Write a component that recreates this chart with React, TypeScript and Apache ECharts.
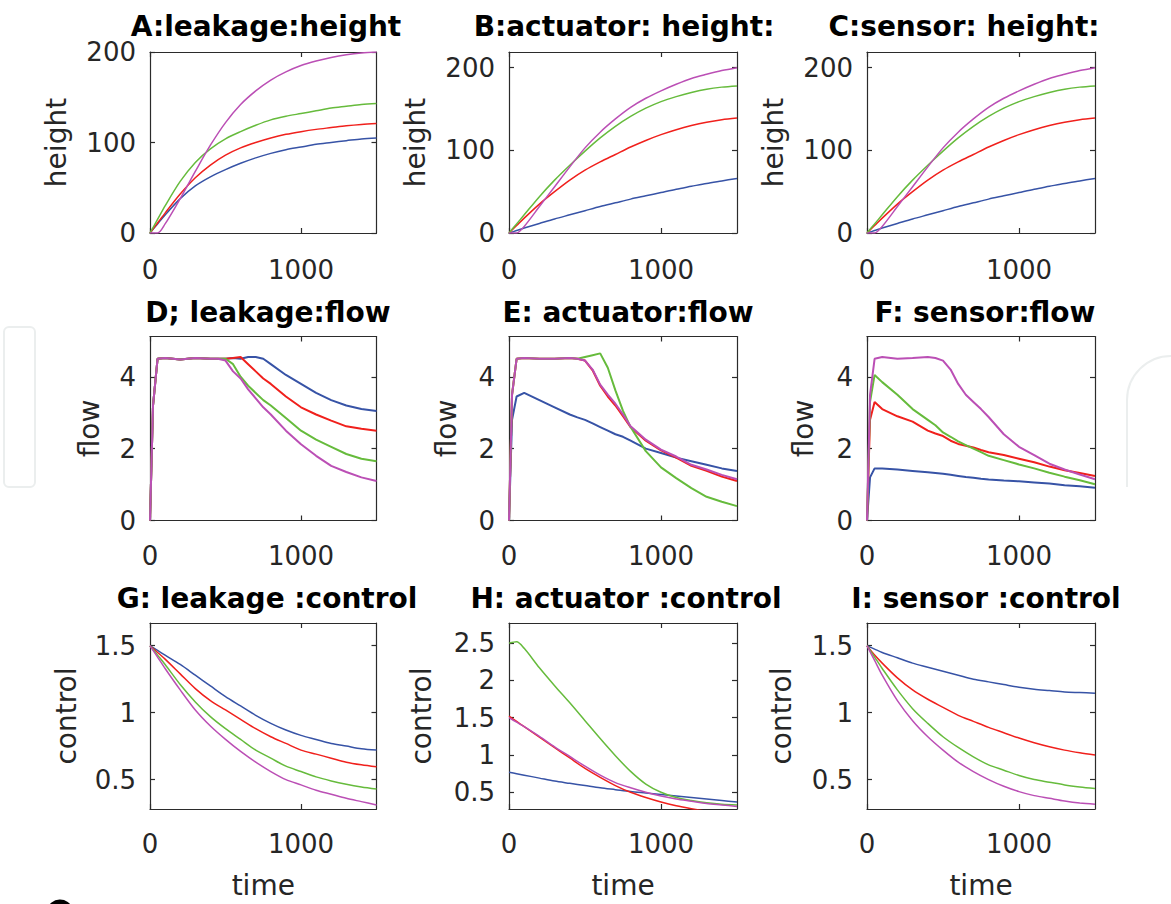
import React, { useEffect, useRef } from "react";
import * as echarts from "echarts";

// ---- time grids ----
const T_H = [0, 50, 100, 200, 300, 400, 500, 600, 700, 800, 900, 1000, 1100, 1200, 1300, 1400, 1500];
const T_F = [0, 20, 50, 100, 200, 300, 400, 450, 500, 550, 600, 650, 700, 750, 800, 900, 1000, 1100, 1200, 1300, 1400, 1500];

// ---- A: leakage height ----
const A_blue = [0, 10, 20, 38, 52, 62, 70, 77, 83, 88, 92, 95, 98, 100, 102, 104, 105];
const A_red = [0, 11, 22, 43, 61, 75, 86, 94, 100, 105, 109, 112, 114.5, 116.5, 118.5, 120, 121];
const A_green = [0, 15, 30, 57, 78, 93, 104, 112, 119, 125, 129, 132, 135, 138, 140, 142, 143];
const A_magenta = [0, 0, 10, 38, 68, 97, 122, 142, 157, 169, 178, 185, 190, 194, 197, 199, 200];

// ---- B / C: actuator & sensor height ----
const B_blue = [0, 3, 6, 11.5, 17, 22, 27, 32, 36.5, 41, 45, 49, 53, 56.5, 60, 63, 66];
const B_red = [0, 9, 18, 35, 50, 64, 76, 86, 95, 104, 112, 119, 125, 130, 134, 137, 139];
const B_green = [0, 11, 22, 44, 64, 82, 99, 115, 129, 141, 151, 159, 165, 170, 174, 176.5, 178];
const B_magenta = [0, 0, 8, 32, 56, 80, 103, 122, 138, 152, 163, 172, 180, 187, 192, 196.5, 200];
const C_blue = [0, 3, 6, 11.5, 17, 22, 27, 32, 36.5, 41, 45, 49, 53, 56.5, 60, 63, 66];
const C_red = [0, 9, 18, 35, 50, 64, 76, 86, 95, 104, 112, 119, 125, 130, 134, 137, 139];
const C_green = [0, 11, 22, 44, 64, 82, 99, 115, 129, 141, 151, 159, 165, 170, 174, 176.5, 178];
const C_magenta = [0, 0, 8, 32, 56, 80, 103, 122, 138, 152, 163, 172, 180, 187, 192, 196.5, 200];

// ---- D/E/F: flow ----
const D_blue = [0, 3.2, 4.5, 4.52, 4.48, 4.52, 4.5, 4.5, 4.5, 4.52, 4.5, 4.55, 4.55, 4.5, 4.35, 4.05, 3.8, 3.55, 3.35, 3.2, 3.1, 3.05];
const D_red = [0, 3.2, 4.5, 4.52, 4.48, 4.52, 4.5, 4.5, 4.5, 4.52, 4.55, 4.35, 4.15, 3.95, 3.8, 3.45, 3.15, 2.95, 2.78, 2.62, 2.55, 2.5];
const D_green = [0, 3.2, 4.5, 4.52, 4.48, 4.52, 4.5, 4.5, 4.5, 4.35, 4.0, 3.75, 3.55, 3.35, 3.2, 2.85, 2.5, 2.25, 2.05, 1.85, 1.72, 1.65];
const D_magenta = [0, 3.2, 4.5, 4.52, 4.48, 4.52, 4.5, 4.5, 4.45, 4.15, 3.95, 3.65, 3.4, 3.15, 2.95, 2.5, 2.12, 1.8, 1.52, 1.35, 1.2, 1.1];

const E_blue = [0, 2.8, 3.45, 3.55, 3.35, 3.15, 2.95, 2.87, 2.8, 2.7, 2.6, 2.5, 2.4, 2.33, 2.22, 2.0, 1.88, 1.75, 1.65, 1.55, 1.45, 1.38];
const E_red = [0, 3.5, 4.5, 4.52, 4.5, 4.5, 4.52, 4.5, 4.45, 4.18, 3.75, 3.45, 3.2, 2.9, 2.6, 2.22, 1.95, 1.75, 1.52, 1.38, 1.22, 1.1];
const E_green = [0, 3.5, 4.5, 4.52, 4.5, 4.5, 4.52, 4.5, 4.55, 4.6, 4.65, 4.25, 3.62, 3.05, 2.6, 1.93, 1.48, 1.18, 0.9, 0.66, 0.52, 0.4];
const E_magenta = [0, 3.5, 4.5, 4.52, 4.5, 4.5, 4.52, 4.5, 4.45, 4.2, 3.78, 3.5, 3.25, 2.95, 2.62, 2.25, 1.97, 1.78, 1.55, 1.42, 1.27, 1.15];

const F_blue = [0, 1.2, 1.45, 1.45, 1.42, 1.38, 1.34, 1.32, 1.3, 1.27, 1.24, 1.21, 1.19, 1.16, 1.14, 1.11, 1.09, 1.06, 1.03, 0.98, 0.95, 0.91];
const F_red = [0, 2.8, 3.3, 3.1, 2.9, 2.75, 2.5, 2.42, 2.35, 2.22, 2.13, 2.08, 2.03, 1.96, 1.9, 1.82, 1.72, 1.62, 1.5, 1.4, 1.32, 1.24];
const F_green = [0, 3.3, 4.05, 3.85, 3.5, 3.1, 2.8, 2.65, 2.45, 2.33, 2.2, 2.1, 2.0, 1.9, 1.8, 1.68, 1.56, 1.45, 1.33, 1.22, 1.12, 1.01];
const F_magenta = [0, 3.5, 4.5, 4.55, 4.5, 4.52, 4.55, 4.52, 4.45, 4.2, 3.8, 3.5, 3.3, 3.1, 2.88, 2.4, 2.05, 1.82, 1.58, 1.42, 1.28, 1.15];

// ---- G/H/I: control ----
const G_blue = [1.5, 1.465, 1.43, 1.36, 1.28, 1.2, 1.12, 1.05, 0.98, 0.92, 0.87, 0.83, 0.8, 0.77, 0.75, 0.73, 0.72];
const G_red = [1.5, 1.45, 1.4, 1.29, 1.18, 1.09, 1.02, 0.95, 0.88, 0.82, 0.77, 0.72, 0.69, 0.66, 0.63, 0.61, 0.595];
const G_green = [1.5, 1.43, 1.36, 1.21, 1.08, 0.97, 0.88, 0.8, 0.72, 0.66, 0.6, 0.56, 0.52, 0.49, 0.465, 0.445, 0.43];
const G_magenta = [1.5, 1.415, 1.33, 1.17, 1.02, 0.9, 0.8, 0.71, 0.63, 0.56, 0.5, 0.46, 0.42, 0.39, 0.36, 0.335, 0.31];

const H_blue = [0.77, 0.75, 0.73, 0.69, 0.65, 0.62, 0.59, 0.56, 0.535, 0.51, 0.49, 0.47, 0.45, 0.43, 0.41, 0.39, 0.37];
const H_red = [1.52, 1.45, 1.38, 1.24, 1.1, 0.96, 0.82, 0.7, 0.59, 0.5, 0.43, 0.37, 0.32, 0.28, 0.245, 0.215, 0.19];
const H_green = [2.5, 2.52, 2.43, 2.17, 1.93, 1.7, 1.46, 1.22, 0.99, 0.78, 0.61, 0.5, 0.43, 0.39, 0.36, 0.34, 0.33];
const H_magenta = [1.5, 1.44, 1.38, 1.25, 1.11, 0.98, 0.85, 0.73, 0.63, 0.56, 0.5, 0.45, 0.41, 0.38, 0.35, 0.33, 0.31];

const I_blue = [1.5, 1.475, 1.45, 1.41, 1.37, 1.34, 1.31, 1.28, 1.25, 1.23, 1.21, 1.19, 1.175, 1.165, 1.155, 1.15, 1.145];
const I_red = [1.5, 1.43, 1.37, 1.26, 1.17, 1.1, 1.04, 0.98, 0.935, 0.89, 0.85, 0.81, 0.775, 0.745, 0.72, 0.7, 0.683];
const I_green = [1.5, 1.415, 1.33, 1.17, 1.03, 0.92, 0.82, 0.74, 0.67, 0.61, 0.57, 0.53, 0.5, 0.48, 0.46, 0.445, 0.433];
const I_magenta = [1.5, 1.39, 1.28, 1.09, 0.94, 0.82, 0.72, 0.63, 0.56, 0.5, 0.45, 0.41, 0.38, 0.36, 0.34, 0.325, 0.316];

// ---- ticks ----
const X_TICKS = [0, 1000];
const H_TICKS = [0, 100, 200];
const F_TICKS = [0, 2, 4];
const C_TICKS = [0.5, 1, 1.5];
const CH_TICKS = [0.5, 1, 1.5, 2, 2.5];

const COLORS = ["#3753a6", "#f0201c", "#66bb3c", "#bb4fb5"];
const FONT = '"DejaVu Sans", sans-serif';
const AX = "#2b2b2b";

const COL_LEFT = [150, 509, 867];
const COL_W = [226.5, 228, 228];
const ROW_TOP = [52, 336.5, 623];
const ROW_H = [181, 184, 186];

type Panel = {
  title: string; tx: number; ty: number; row: number; col: number;
  time: number[]; lines: number[][]; ymin: number; ymax: number; yticks: number[];
  yname: string; gap: number; lw: number; xname: string;
};

const panels: Panel[] = [
  { title: "A:leakage:height", tx: 266, ty: 26, row: 0, col: 0, time: T_H, lines: [A_blue, A_red, A_green, A_magenta], ymin: 0, ymax: 200, yticks: H_TICKS, yname: "height", gap: 80, lw: 1.5, xname: "" },
  { title: "B:actuator: height:", tx: 624, ty: 26, row: 0, col: 1, time: T_H, lines: [B_blue, B_red, B_green, B_magenta], ymin: 0, ymax: 219, yticks: H_TICKS, yname: "height", gap: 80, lw: 1.5, xname: "" },
  { title: "C:sensor: height:", tx: 964, ty: 26, row: 0, col: 2, time: T_H, lines: [C_blue, C_red, C_green, C_magenta], ymin: 0, ymax: 219, yticks: H_TICKS, yname: "height", gap: 80, lw: 1.5, xname: "" },
  { title: "D; leakage:flow", tx: 268, ty: 312, row: 1, col: 0, time: T_F, lines: [D_blue, D_red, D_green, D_magenta], ymin: 0, ymax: 5.12, yticks: F_TICKS, yname: "flow", gap: 47, lw: 2, xname: "" },
  { title: "E: actuator:flow", tx: 628, ty: 312, row: 1, col: 1, time: T_F, lines: [E_blue, E_red, E_green, E_magenta], ymin: 0, ymax: 5.12, yticks: F_TICKS, yname: "flow", gap: 49, lw: 2, xname: "" },
  { title: "F: sensor:flow", tx: 985, ty: 312, row: 1, col: 2, time: T_F, lines: [F_blue, F_red, F_green, F_magenta], ymin: 0, ymax: 5.12, yticks: F_TICKS, yname: "flow", gap: 50, lw: 2, xname: "" },
  { title: "G: leakage :control", tx: 267, ty: 598, row: 2, col: 0, time: T_H, lines: [G_blue, G_red, G_green, G_magenta], ymin: 0.28, ymax: 1.67, yticks: C_TICKS, yname: "control", gap: 70, lw: 1.5, xname: "time" },
  { title: "H: actuator :control", tx: 626, ty: 598, row: 2, col: 1, time: T_H, lines: [H_blue, H_red, H_green, H_magenta], ymin: 0.276, ymax: 2.77, yticks: CH_TICKS, yname: "control", gap: 74, lw: 1.5, xname: "time" },
  { title: "I: sensor :control", tx: 986, ty: 598, row: 2, col: 2, time: T_H, lines: [I_blue, I_red, I_green, I_magenta], ymin: 0.28, ymax: 1.67, yticks: C_TICKS, yname: "control", gap: 72, lw: 1.5, xname: "time" },
];

const fmt = (v: number) => String(v);

function buildOption() {
  const grid: any[] = [];
  const xAxis: any[] = [];
  const yAxis: any[] = [];
  const series: any[] = [];
  const graphic: any[] = [];
  const line = { color: AX, width: 1.2 };
  const labelStyle = { fontSize: 26, color: "#262626", fontFamily: FONT, formatter: fmt };
  const nameStyle = { fontSize: 28, color: "#262626", fontFamily: FONT };

  panels.forEach((p, i) => {
    grid.push({ left: COL_LEFT[p.col], top: ROW_TOP[p.row], width: COL_W[p.col], height: ROW_H[p.row], containLabel: false });
    const xb = {
      type: "value", gridIndex: i, min: 0, max: 1500, position: "bottom",
      axisLine: { show: true, onZero: false, lineStyle: line },
      axisTick: { show: true, inside: true, length: 5, customValues: X_TICKS, lineStyle: line },
      axisLabel: { show: true, customValues: X_TICKS, margin: p.row === 0 ? 24 : 22, ...labelStyle },
      splitLine: { show: false },
      name: p.xname, nameLocation: "middle", nameGap: 62, nameTextStyle: nameStyle,
    };
    const xt = {
      type: "value", gridIndex: i, min: 0, max: 1500, position: "top",
      axisLine: { show: true, onZero: false, lineStyle: line },
      axisTick: { show: true, inside: true, length: 5, customValues: X_TICKS, lineStyle: line },
      axisLabel: { show: false }, splitLine: { show: false },
    };
    const yl = {
      type: "value", gridIndex: i, min: p.ymin, max: p.ymax, position: "left",
      axisLine: { show: true, onZero: false, lineStyle: line },
      axisTick: { show: true, inside: true, length: 5, customValues: p.yticks, lineStyle: line },
      axisLabel: { show: true, customValues: p.yticks, margin: 14, ...labelStyle },
      splitLine: { show: false },
      name: p.yname, nameLocation: "middle", nameGap: p.gap, nameTextStyle: nameStyle,
    };
    const yr = {
      type: "value", gridIndex: i, min: p.ymin, max: p.ymax, position: "right",
      axisLine: { show: true, onZero: false, lineStyle: line },
      axisTick: { show: true, inside: true, length: 5, customValues: p.yticks, lineStyle: line },
      axisLabel: { show: false }, splitLine: { show: false },
    };
    xAxis.push(xb, xt);
    yAxis.push(yl, yr);
    p.lines.forEach((vals, k) => {
      series.push({
        type: "line", xAxisIndex: 2 * i, yAxisIndex: 2 * i,
        data: p.time.map((t, j) => [t, vals[j]]),
        showSymbol: false, symbol: "none", clip: true, silent: true,
        smooth: p.row === 1 ? false : 0.3,
        lineStyle: { color: COLORS[k], width: p.lw },
      });
    });
    graphic.push({
      type: "text", x: p.tx, y: p.ty, silent: true,
      style: {
        text: p.title, fill: "#000", fontSize: 28, fontWeight: "bold", fontFamily: FONT,
        align: "center", verticalAlign: "middle", textAlign: "center", textVerticalAlign: "middle",
      },
    });
  });

  // faint background watermark shapes
  graphic.push({
    type: "rect", silent: true, z: -10,
    shape: { x: 4, y: 327, width: 31, height: 160, r: 5 },
    style: { fill: "none", stroke: "#ebeeee", lineWidth: 2 },
  });
  graphic.push({
    type: "arc", silent: true, z: -10,
    shape: { cx: 1171, cy: 400, r: 44, startAngle: Math.PI, endAngle: Math.PI * 1.5 },
    style: { fill: "none", stroke: "#ebeeee", lineWidth: 2 },
  });
  graphic.push({
    type: "line", silent: true, z: -10,
    shape: { x1: 1127, y1: 400, x2: 1127, y2: 487 },
    style: { stroke: "#ebeeee", lineWidth: 2 },
  });
  // top of a cut-off panel letter at the bottom-left edge
  graphic.push({
    type: "arc", silent: true,
    shape: { cx: 60, cy: 913, r: 11, startAngle: Math.PI * 1.08, endAngle: Math.PI * 1.9 },
    style: { fill: "none", stroke: "#000", lineWidth: 5 },
  });

  return { animation: false, backgroundColor: "#ffffff", grid, xAxis, yAxis, series, graphic };
}

export default function App() {
  const ref = useRef<HTMLDivElement>(null);
  useEffect(() => {
    if (!ref.current) return;
    const chart = echarts.init(ref.current, undefined, { renderer: "svg" });
    chart.setOption(buildOption() as any);
    return () => chart.dispose();
  }, []);
  return (
    <div
      ref={ref}
      style={{ position: "absolute", left: 0, top: 0, width: 1171, height: 904, background: "#fff" }}
    />
  );
}
